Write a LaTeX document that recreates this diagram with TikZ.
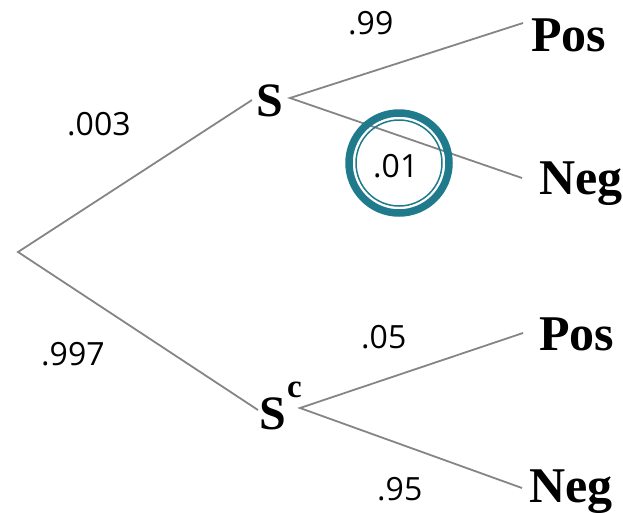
\documentclass[tikz,border=0pt]{standalone}
\usepackage{fontspec}
\setmainfont{Liberation Serif}
\newfontfamily\labfont{Open Sans}
\definecolor{edgegray}{HTML}{858585}
\definecolor{teal}{HTML}{1F7A8C}
\tikzset{
  edge/.style={draw=edgegray, line width=1.8pt},
  state/.style={inner sep=0pt, anchor=base west, font=\fontsize{48}{48}\selectfont\bfseries},
  endstate/.style={inner sep=0pt, anchor=base west, font=\fontsize{50}{50}\selectfont\bfseries},
  prob/.style={inner sep=0pt, anchor=base west, font=\labfont\fontsize{32}{32}\selectfont},
}
\begin{document}
\begin{tikzpicture}[x=1pt,y=-1pt]
\useasboundingbox (0,0) rectangle (623,512);
% nodes
\node[state] (S) at (256,116) {S};
\node[state] (Sc) at (259,429) {S};
\node[inner sep=0pt, anchor=base west, font=\fontsize{33}{33}\selectfont\bfseries] (c) at (287,397) {c};
\node[endstate] (P1) at (531,51) {Pos};
\node[endstate] (N1) at (539,194) {Neg};
\node[endstate] (P2) at (539,350) {Pos};
\node[endstate] (N2) at (529,502) {Neg};
% edge endpoints
\coordinate (root) at (18,252);
\coordinate (sin) at (252,100);
\coordinate (sout) at (290,98);
\coordinate (scin) at (258,410);
\coordinate (scout) at (300,408);
\coordinate (p1e) at (523,23);
\coordinate (n1e) at (522,178);
\coordinate (p2e) at (523,333);
\coordinate (n2e) at (522,488);
% edges
\draw[edge] (sin) -- (root) -- (scin);
\draw[edge] (p1e) -- (sout) -- (n1e);
\draw[edge] (p2e) -- (scout) -- (n2e);
% circle
\node[circle, draw=teal, line width=7.5pt, minimum size=100pt, inner sep=0pt] (ring) at (399,163) {};
\node[circle, draw=teal, line width=1.5pt, minimum size=86pt, inner sep=0pt] (inner) at (399,163) {};
% labels
\node[prob] (l1) at (67,135) {.003};
\node[prob] (l2) at (348,34) {.99};
\node[prob] (l3) at (373,177) {.01};
\node[prob] (l4) at (41,365) {.997};
\node[prob] (l5) at (361,348) {.05};
\node[prob] (l6) at (377,500) {.95};
\end{tikzpicture}
\end{document}
